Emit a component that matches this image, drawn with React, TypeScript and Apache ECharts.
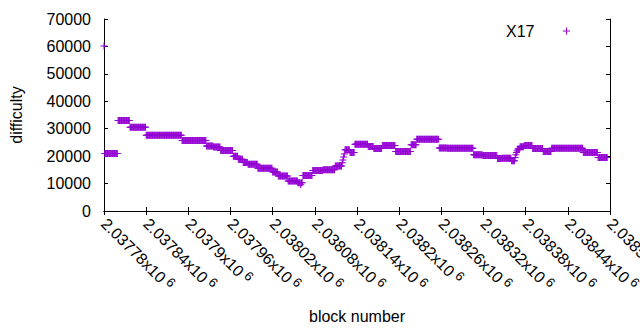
import React, { useEffect, useRef } from "react";
import * as echarts from "echarts";

// Difficulty runs: first block of the run, run length (blocks), difficulty
const runStart = [
  2037780, 2037781, 2037800, 2037817, 2037840, 2037891, 2037926, 2037936, 2037946, 2037964,
  2037971, 2037978, 2037985, 2037999, 2038020, 2038028, 2038042, 2038056, 2038060, 2038061,
  2038063, 2038077, 2038092, 2038109, 2038119, 2038120, 2038121, 2038122, 2038123, 2038130,
  2038137, 2038156, 2038164, 2038176, 2038195, 2038217, 2038225, 2038257, 2038269, 2038306,
  2038319, 2038340, 2038346, 2038360, 2038365, 2038366, 2038367, 2038368, 2038369, 2038372,
  2038378, 2038390, 2038405, 2038417, 2038462, 2038483,
];
const runLength = [
  1, 19, 17, 23, 51, 35, 10, 10, 18, 7,
  7, 7, 14, 21, 8, 14, 14, 4, 1, 2,
  14, 15, 17, 10, 1, 1, 1, 1, 7, 7,
  19, 8, 12, 19, 22, 8, 32, 12, 37, 13,
  21, 6, 14, 5, 1, 1, 1, 1, 3, 6,
  12, 15, 12, 45, 21, 14,
];
const runValue = [
  60200, 21000, 33000, 30500, 27600, 25700, 23700, 23300, 22100, 20000,
  18900, 17700, 17050, 15600, 14200, 12800, 10900, 10300, 9600, 10300,
  12900, 14800, 15000, 16400, 17600, 18600, 19700, 20800, 22300, 21300,
  24350, 23500, 22800, 23900, 21700, 24150, 26180, 23000, 22900, 20500,
  20200, 19100, 19250, 18300, 19500, 20500, 21300, 22000, 22600, 23400,
  23900, 22800, 21700, 22900, 21350, 19500,
];

const seriesName = "X17";
const xMin = 2037780;
const xMax = 2038500;
const xStep = 60;
const yMin = 0;
const yMax = 70000;
const yStep = 10000;

const PLUS = "path://M0,3H7V4H0Z M3,0H4V7H3Z";
const COLOR = "#9400d3";
const FONT = "Liberation Sans, Arial, sans-serif";
const FS = 16;

function buildPoints(): [number, number][] {
  const pts: [number, number][] = [];
  for (let i = 0; i < runStart.length; i++) {
    for (let k = 0; k < runLength[i]; k++) {
      pts.push([runStart[i] + k, runValue[i]]);
    }
  }
  return pts;
}

function fmtX(v: number): string {
  const m = parseFloat((v / 1e6).toFixed(6)).toString();
  return "{a|" + m + "x10}{s| 6}";
}

export default function App() {
  const ref = useRef<HTMLDivElement>(null);
  useEffect(() => {
    if (!ref.current) return;
    const chart = echarts.init(ref.current, null, { renderer: "svg" });
    const axisLine = { show: true, lineStyle: { color: "#000", width: 1 } };
    const axisTick = { show: true, inside: true, length: 4, lineStyle: { color: "#000", width: 1 } };
    chart.setOption({
      animation: false,
      backgroundColor: "#fff",
      textStyle: { fontFamily: FONT },
      grid: { left: 104, right: 30, top: 19, bottom: 119, containLabel: false, outerBoundsMode: "none" },
      legend: {
        data: [{ name: seriesName, icon: PLUS }],
        right: 70,
        top: 23,
        padding: 0,
        align: "right",
        itemWidth: 54,
        itemHeight: 7,
        textStyle: { fontSize: FS, color: "#000", fontFamily: FONT },
      },
      xAxis: [
        {
          type: "value",
          min: xMin,
          max: xMax,
          interval: xStep,
          name: "block number",
          nameLocation: "middle",
          nameGap: 97,
          nameTextStyle: { fontSize: FS, color: "#000", fontFamily: FONT },
          axisLine,
          axisTick,
          splitLine: { show: false },
          axisLabel: {
            rotate: -45,
            margin: 10,
            color: "#000",
            hideOverlap: false,
            formatter: fmtX,
            rich: {
              a: { fontSize: FS, color: "#000", fontFamily: FONT },
              s: { fontSize: 13, color: "#000", fontFamily: FONT, padding: [0, 0, 8, 0] },
            },
          },
        },
        {
          type: "value",
          position: "top",
          min: xMin,
          max: xMax,
          interval: xStep,
          axisLine,
          axisTick,
          axisLabel: { show: false },
          splitLine: { show: false },
        },
      ],
      yAxis: [
        {
          type: "value",
          min: yMin,
          max: yMax,
          interval: yStep,
          name: "difficulty",
          nameLocation: "middle",
          nameGap: 80,
          nameTextStyle: { fontSize: FS, color: "#000", fontFamily: FONT },
          axisLine,
          axisTick,
          splitLine: { show: false },
          axisLabel: {
            margin: 13,
            fontSize: FS,
            color: "#000",
            fontFamily: FONT,
            formatter: (v: number) => String(v),
          },
        },
        {
          type: "value",
          position: "right",
          min: yMin,
          max: yMax,
          interval: yStep,
          axisLine,
          axisTick,
          axisLabel: { show: false },
          splitLine: { show: false },
        },
      ],
      series: [
        {
          name: seriesName,
          type: "scatter",
          xAxisIndex: 0,
          yAxisIndex: 0,
          symbol: PLUS,
          symbolSize: 7,
          clip: false,
          itemStyle: { color: COLOR, opacity: 1 },
          data: buildPoints(),
        },
      ],
    });
    return () => chart.dispose();
  }, []);
  return <div ref={ref} style={{ width: 640, height: 330, position: "absolute", left: 0, top: 0 }} />;
}
